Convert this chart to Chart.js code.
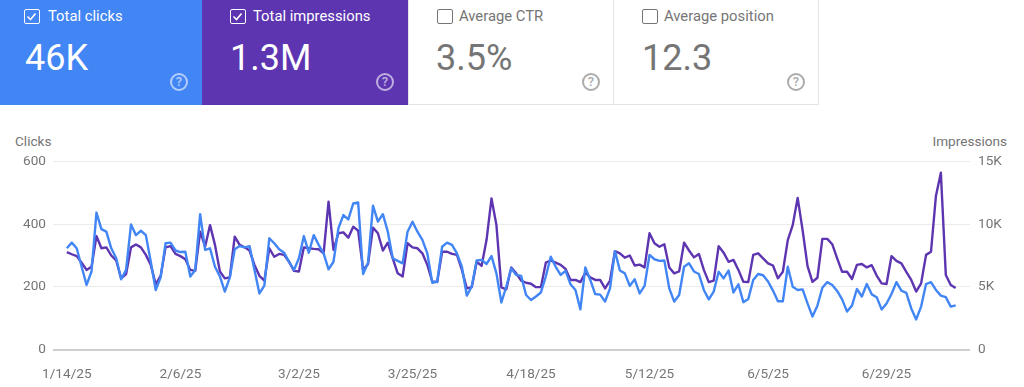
<!DOCTYPE html>
<html lang="en">
<head>
<meta charset="utf-8">
<title>Performance</title>
<script src="https://cdn.jsdelivr.net/npm/chart.js"></script>
<style>
html, body { margin: 0; padding: 0; background: #fff; overflow: hidden; }
body { width: 1024px; height: 387px; position: relative; font-family: Roboto, sans-serif; }
#myChart { position: absolute; left: 0; top: 0; }
.card { position: absolute; top: 0; height: 105px; box-sizing: border-box; }
.card .name { position: absolute; left: 48px; top: 7px; font-size: 14.8px; line-height: 18px; white-space: nowrap; }
.card .num { position: absolute; left: 25px; top: 37px; font-size: 36px; line-height: 42px; white-space: nowrap; }
.card .box { position: absolute; left: 24px; top: 8.5px; width: 16px; height: 15.5px; box-sizing: border-box; border: 1.5px solid currentColor; border-radius: 2px; }
.card .box svg { position: absolute; left: 0; top: 0; }
.card .help { position: absolute; left: 170px; top: 73px; width: 18px; height: 18px; box-sizing: border-box; border: 2px solid currentColor; border-radius: 50%; font-size: 13px; line-height: 14px; text-align: center; font-weight: 500; opacity: .6; }
.on { color: #fff; }
.off { color: #757575; background: #fff; border: 1px solid #e4e4e4; border-top: 0; }
.axis-title { position: absolute; top: 133px; font-size: 13.6px; line-height: 16px; color: #757575; }
</style>
</head>
<body>
<div class="card on" style="left:0;width:202px;background:#4285f4">
  <div class="box"><svg width="13" height="13" viewBox="0 0 13 13"><path d="M2.5 6.5l3 3 5-6" fill="none" stroke="#fff" stroke-width="1.6"/></svg></div>
  <div class="name">Total clicks</div><div class="num">46K</div><div class="help">?</div>
</div>
<div class="card on" style="left:202px;width:206px;background:#5e35b1">
  <div class="box" style="left:28px"><svg width="13" height="13" viewBox="0 0 13 13"><path d="M2.5 6.5l3 3 5-6" fill="none" stroke="#fff" stroke-width="1.6"/></svg></div>
  <div class="name" style="left:51px">Total impressions</div><div class="num" style="left:28px">1.3M</div><div class="help" style="left:174px">?</div>
</div>
<div class="card off" style="left:408px;width:206px">
  <div class="box" style="left:28px"></div>
  <div class="name" style="left:50px">Average CTR</div><div class="num" style="left:27px">3.5%</div><div class="help" style="left:173px">?</div>
</div>
<div class="card off" style="left:613px;width:206px">
  <div class="box" style="left:28px"></div>
  <div class="name" style="left:50px">Average position</div><div class="num" style="left:28px">12.3</div><div class="help" style="left:173px">?</div>
</div>
<div class="axis-title" style="left:15px">Clicks</div>
<div class="axis-title" style="right:17px">Impressions</div>
<canvas id="myChart" width="1024" height="387"></canvas>
<script>
const clicks = [323,341,323,264,206,249,437,384,376,323,291,224,254,399,365,379,365,280,190,230,
339,341,316,311,312,233,254,432,318,323,264,233,185,230,320,330,326,330,254,179,
204,355,339,320,309,280,254,291,362,309,365,334,307,256,280,387,429,415,466,469,
241,277,459,408,432,376,291,283,275,376,408,376,350,307,213,217,328,341,334,307,
264,172,201,284,286,273,298,243,150,201,259,238,235,174,158,169,182,233,296,264,
238,251,208,190,128,262,222,177,175,153,195,314,252,243,203,224,179,203,302,288,
283,284,195,153,174,264,275,249,241,190,160,185,248,227,252,182,208,151,161,222,
241,237,217,188,154,154,264,200,190,192,147,105,140,197,215,206,187,160,121,140,
193,169,209,176,167,128,147,177,215,188,181,131,96,137,209,215,190,172,167,137,141];
const impressions = [7775,7600,7450,6925,6350,6600,9050,8075,8150,7500,7100,5675,6025,8150,8375,8150,7550,6750,5200,5875,
8150,8250,7625,7450,7200,6350,6275,9400,8200,9925,8350,6225,5675,5750,9000,8350,8150,7900,6750,5875,
5500,8075,7400,7625,7550,7000,6275,6225,8150,8075,8025,8000,7675,11800,7950,9275,9350,8925,9800,9475,
6350,6825,9725,9275,7900,8525,7275,6075,5825,8475,8150,8075,7675,6750,5425,5375,7800,7800,7625,7550,
6350,4875,4975,7000,6675,8750,12050,9925,4950,4800,6550,6075,5500,5325,5250,4975,4975,6925,7100,6925,
6750,6425,5550,5550,5375,6125,5750,5550,5550,4875,5500,7850,7675,7325,7500,6700,6775,6550,9275,8475,
8200,8400,6550,6075,6225,8525,7900,7350,7625,6350,5375,5500,8250,7725,7000,7150,6350,5400,5375,7550,
7675,7275,6875,6700,5675,6200,8725,9925,12100,9525,6650,5400,5725,8825,8825,8400,7275,6200,6200,5625,
6750,6825,6550,6725,5900,5275,5225,7450,7075,6875,6200,5550,4625,5275,7550,7800,12250,14100,5950,5150,4900];
const tickLabels = ['1/14/25','2/6/25','3/2/25','3/25/25','4/18/25','5/12/25','6/5/25','6/29/25'];
const dates = [];
for (let i = 0; i < clicks.length; i++) {
    let d = new Date(2025, 0, 14 + i);
    dates.push((d.getMonth() + 1) + '/' + d.getDate() + '/25');
}
const tickPos = tickLabels.map(l => dates.indexOf(l));
const toPoints = arr => arr.map((v, i) => ({x: i, y: v}));

const myChart = new Chart(document.getElementById('myChart'), {
    type: 'line',
    data: {
        datasets: [
            {label: 'Clicks', data: toPoints(clicks), yAxisID: 'y', borderColor: '#4285f4', borderWidth: 2.4, borderJoinStyle: 'round', pointRadius: 0, tension: 0},
            {label: 'Impressions', data: toPoints(impressions), yAxisID: 'y1', borderColor: '#5e35b1', borderWidth: 2.4, borderJoinStyle: 'round', pointRadius: 0, tension: 0}
        ]
    },
    options: {
        responsive: false,
        animation: false,
        layout: {padding: {top: 161.5}},
        plugins: {legend: {display: false}, tooltip: {enabled: false}},
        scales: {
            x: {
                type: 'linear',
                min: -2.8,
                max: 182.9,
                grid: {display: false},
                border: {display: false},
                afterBuildTicks: s => { s.ticks = tickPos.map(v => ({value: v})); },
                afterFit: s => { s.height = 37.5; },
                ticks: {
                    autoSkip: false, maxRotation: 0, color: '#757575', padding: 9,
                    font: {family: 'Roboto', size: 13.6},
                    callback: (v, i) => tickLabels[i]
                }
            },
            y: {
                position: 'left', min: 0, max: 600,
                afterFit: s => { s.width = 53; },
                border: {display: false},
                grid: {
                    drawTicks: false,
                    color: c => c.tick.value === 0 ? '#cfcfcf' : '#ebebeb',
                    lineWidth: c => c.tick.value === 0 ? 2 : 1
                },
                ticks: {stepSize: 200, color: '#757575', padding: 7, font: {family: 'Roboto', size: 13.6}}
            },
            y1: {
                position: 'right', min: 0, max: 15000,
                afterFit: s => { s.width = 54; },
                border: {display: false},
                grid: {display: false, drawTicks: false},
                ticks: {
                    stepSize: 5000, color: '#757575', padding: 8, font: {family: 'Roboto', size: 13.6},
                    callback: v => v === 0 ? '0' : (v / 1000) + 'K'
                }
            }
        }
    }
});
</script>
</body>
</html>
